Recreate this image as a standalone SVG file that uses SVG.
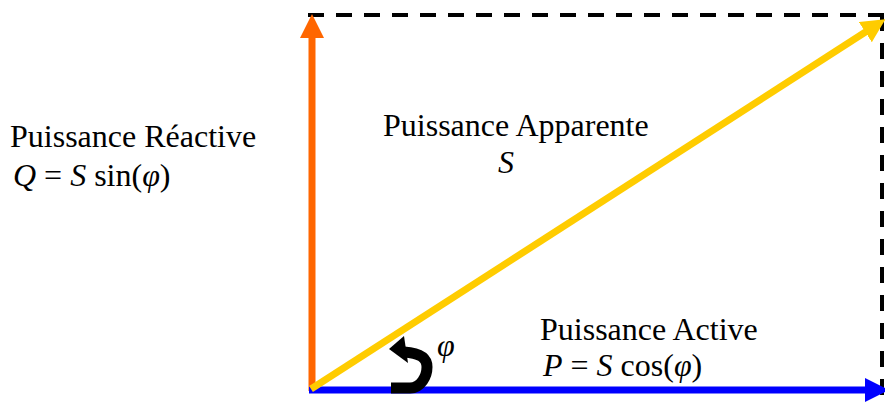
<svg xmlns="http://www.w3.org/2000/svg" width="885" height="402" viewBox="0 0 885 402">
<style>
.t{font-family:"Liberation Serif","Times New Roman",serif;font-size:32px;fill:#000}
.i{font-style:italic}
.dash{stroke:#000;stroke-width:4;stroke-dasharray:16 12;fill:none}
</style>
<defs>
<marker id="hO" markerUnits="userSpaceOnUse" markerWidth="26" markerHeight="26" refX="2" refY="12" orient="auto"><path d="M0,0 L24,12 L0,24 z" fill="#FF6600"/></marker>
<marker id="hB" markerUnits="userSpaceOnUse" markerWidth="26" markerHeight="26" refX="2" refY="12" orient="auto"><path d="M0,0 L24,12 L0,24 z" fill="#0000FF"/></marker>
<marker id="hY" markerUnits="userSpaceOnUse" markerWidth="26" markerHeight="26" refX="2" refY="12" orient="auto"><path d="M0,0 L24,12 L0,24 z" fill="#FFCC00"/></marker>
</defs>
<rect width="885" height="402" fill="#fff"/>
<g id="connectors">
<line class="dash" x1="308" y1="15" x2="885" y2="15"/>
<line class="dash" x1="882" y1="15" x2="882" y2="402"/>
<line id="reactive" x1="312" y1="391" x2="312" y2="36" stroke="#FF6600" stroke-width="7" marker-end="url(#hO)"/>
<line id="active" x1="309" y1="390" x2="867" y2="390" stroke="#0000FF" stroke-width="7" marker-end="url(#hB)"/>
<line id="apparent" x1="311" y1="389" x2="867" y2="31" stroke="#FFCC00" stroke-width="7" marker-end="url(#hY)"/>
<g id="angle-arrow">
<path d="M391,388 L410,388 C421,388 427,376 427,367 C427,357 419,353 404,352" fill="none" stroke="#000" stroke-width="11"/>
<polygon points="389,349 404,336 408,363" fill="#000"/>
</g>
</g>
<g id="label-reactive">
<text class="t" x="10" y="147">Puissance Réactive</text>
<text class="t" x="13" y="186"><tspan class="i">Q</tspan> = <tspan class="i">S</tspan> sin(<tspan class="i">φ</tspan>)</text>
</g>
<g id="label-apparent">
<text class="t" x="383" y="136">Puissance Apparente</text>
<text class="t i" x="498" y="173">S</text>
</g>
<g id="label-active">
<text class="t" x="540" y="340">Puissance Active</text>
<text class="t" x="543" y="376"><tspan class="i">P</tspan> = <tspan class="i">S</tspan> cos(<tspan class="i">φ</tspan>)</text>
</g>
<g id="label-phi">
<text class="t i" x="437" y="356">φ</text>
</g>
</svg>
